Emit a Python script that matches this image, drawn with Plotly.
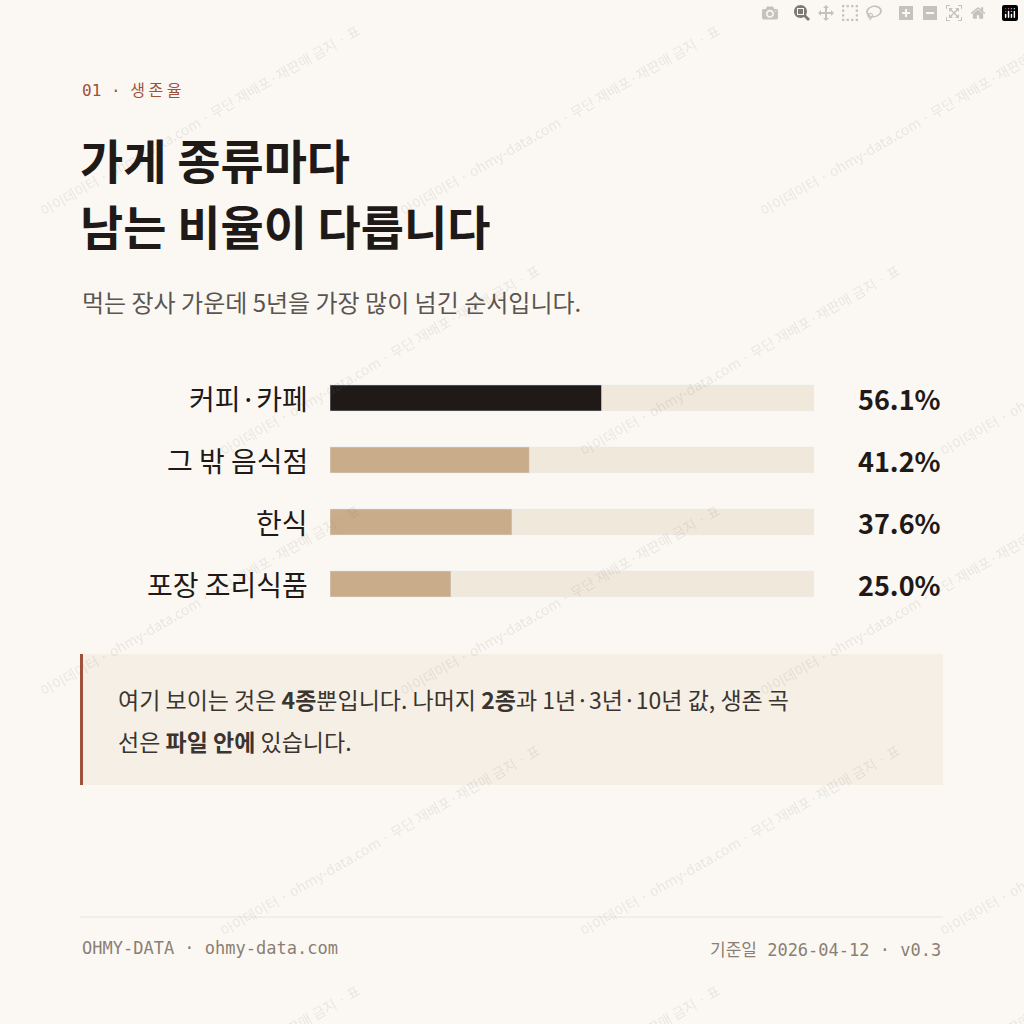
import plotly.graph_objects as go

categories = ["커피·카페", "그 밖 음식점", "한식", "포장 조리식품"]
survival = [56.1, 41.2, 37.6, 25.0]
value_labels = ["56.1%", "41.2%", "37.6%", "25.0%"]
bar_colors = ["#1f1a17", "#c9ad8b", "#c9ad8b", "#c9ad8b"]

BG = "#fbf8f3"
KR = "Noto Sans CJK KR"
MONO = "DejaVu Sans Mono"

fig = go.Figure()
fig.add_trace(go.Bar(y=categories, x=[100] * len(categories), orientation="h",
                     marker=dict(color="#f1e8dc"), width=0.42, hoverinfo="skip"))
fig.add_trace(go.Bar(y=categories, x=survival, orientation="h",
                     marker=dict(color=bar_colors), width=0.42))

shapes = [
    dict(type="rect", xref="paper", yref="paper", x0=80/1024, x1=943/1024,
         y0=1-785/1024, y1=1-654/1024, fillcolor="#f6efe5", line_width=0, layer="below"),
    dict(type="rect", xref="paper", yref="paper", x0=80/1024, x1=83/1024,
         y0=1-785/1024, y1=1-654/1024, fillcolor="#a0513a", line_width=0),
    dict(type="line", xref="paper", yref="paper", x0=80/1024, x1=943/1024,
         y0=1-917/1024, y1=1-917/1024, line=dict(color="#e9e2d8", width=1)),
]

def px(x, y, text, size, color, font=KR, xanchor="left", yanchor="middle", **kw):
    return dict(x=x/1024, y=1-y/1024, xref="paper", yref="paper", text=text,
                showarrow=False, xanchor=xanchor, yanchor=yanchor,
                font=dict(family=font, size=size, color=color), **kw)

ann = []
# watermark
for r in range(0, 5):
    for c in range(0, 3):
        ann.append(px(c*360 + (r % 2)*180 + 200, r*240 + 120,
                      "아이데이터 · ohmy-data.com · 무단 재배포·재판매 금지 · 표", 14,
                      "rgba(120,110,100,0.15)", xanchor="center", textangle=-30))

ann += [
    px(80, 89, "01 · <span style='font-family:Noto Sans CJK KR'>생 존 율</span>", 16, "#a0513a", font=MONO),
    px(78, 158, "<b>가게 종류마다</b>", 47, "#1f1a17"),
    px(78, 224, "<b>남는 비율이 다릅니다</b>", 47, "#1f1a17"),
    px(80, 301, "먹는 장사 가운데 5년을 가장 많이 넘긴 순서입니다.", 24, "#5a5550"),
    px(116, 699, "여기 보이는 것은 <b>4종</b>뿐입니다. 나머지 <b>2종</b>과 1년·3년·10년 값, 생존 곡", 23, "#3a3530"),
    px(116, 741, "선은 <b>파일 안에</b> 있습니다.", 23, "#3a3530"),
    px(80, 948, "OHMY-DATA · ohmy-data.com", 17, "#8a7f74", font=MONO),
    px(943, 948, "<span style='font-family:Noto Sans CJK KR'>기준일</span> 2026-04-12 · v0.3",
       17, "#8a7f74", font=MONO, xanchor="right"),
]
for i, (cat, lab) in enumerate(zip(categories, value_labels)):
    y = 398 + i*62
    ann.append(px(310, y, cat, 28, "#1f1a17", xanchor="right"))
    ann.append(px(943, y, f"<b>{lab}</b>", 27, "#1f1a17", xanchor="right"))

fig.update_layout(
    width=1024, height=1024, autosize=False,
    margin=dict(l=0, r=0, t=0, b=0),
    paper_bgcolor=BG, plot_bgcolor=BG,
    barmode="overlay", showlegend=False,
    xaxis=dict(domain=[330/1024, 814/1024], range=[0, 100], visible=False, fixedrange=True),
    yaxis=dict(domain=[1-615/1024, 1-367/1024], autorange="reversed", visible=False,
               categoryorder="array", categoryarray=categories),
    shapes=shapes, annotations=ann,
)
fig.write_html("out.html", post_script="document.body.style.margin='0';")
